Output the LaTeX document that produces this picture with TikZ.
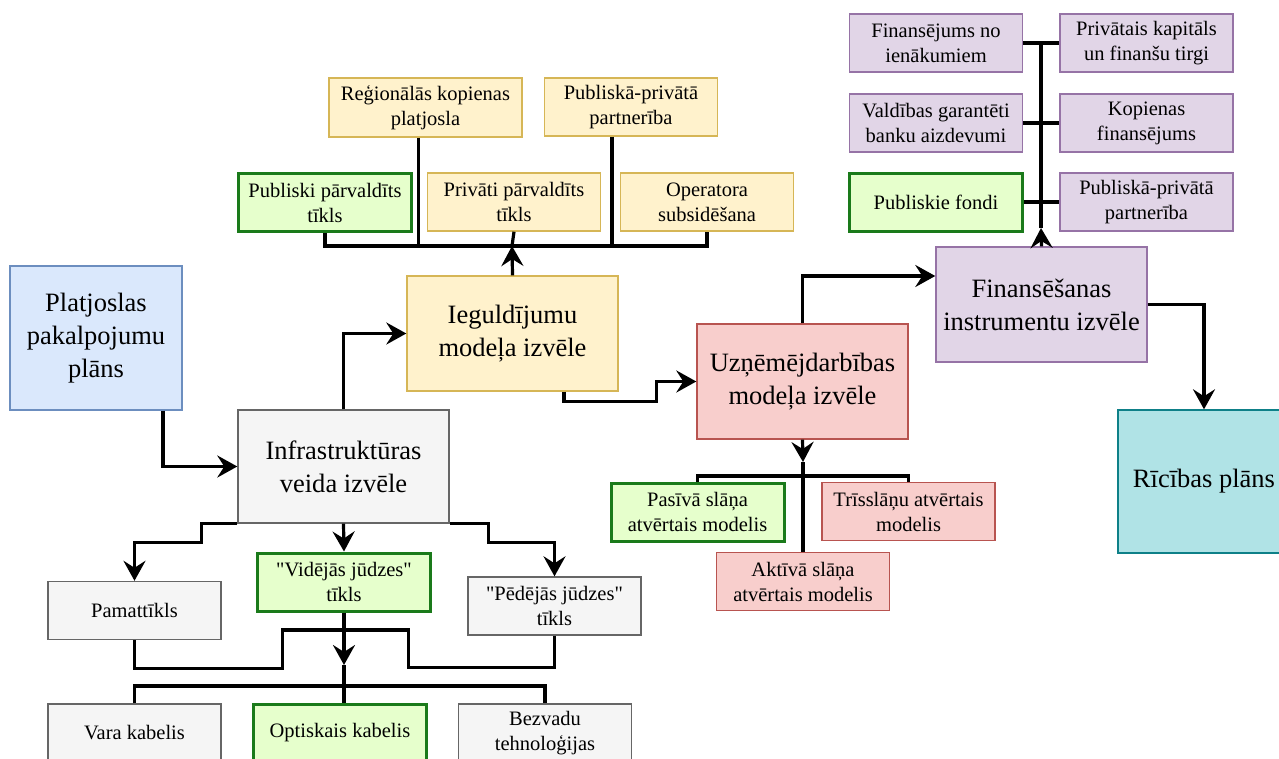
\documentclass[tikz,border=0pt]{standalone}
\usepackage{fontspec}
\setmainfont{Liberation Serif}[Ligatures=TeXOff]
\usetikzlibrary{arrows.meta}

\definecolor{bluefill}{HTML}{DAE8FC}\definecolor{bluedraw}{HTML}{6C8EBF}
\definecolor{grayfill}{HTML}{F5F5F5}\definecolor{graydraw}{HTML}{666666}
\definecolor{yellowfill}{HTML}{FFF2CC}\definecolor{yellowdraw}{HTML}{D6B656}
\definecolor{redfill}{HTML}{F8CECC}\definecolor{reddraw}{HTML}{B85450}
\definecolor{purplefill}{HTML}{E1D5E7}\definecolor{purpledraw}{HTML}{9673A6}
\definecolor{tealfill}{HTML}{B0E3E6}\definecolor{tealdraw}{HTML}{0E8088}
\definecolor{greenfill}{HTML}{E6FFCC}\definecolor{greendraw}{HTML}{1A7A1A}

\tikzset{
  box/.style={draw, rectangle, align=center, inner sep=2pt, line width=1.4pt, text=black},
  big/.style={box, font=\fontsize{26.5}{33}\selectfont, minimum width=211pt, minimum height=115pt},
  small/.style={box, font=\fontsize{20.5}{25}\selectfont, minimum width=173pt, minimum height=58pt},
  bluebox/.style={fill=bluefill, draw=bluedraw},
  graybox/.style={fill=grayfill, draw=graydraw},
  yellowbox/.style={fill=yellowfill, draw=yellowdraw},
  redbox/.style={fill=redfill, draw=reddraw},
  purplebox/.style={fill=purplefill, draw=purpledraw},
  tealbox/.style={fill=tealfill, draw=tealdraw},
  greenbox/.style={fill=greenfill, draw=greendraw, line width=3pt},
  conn/.style={line width=3.2pt},
  arr/.style={conn, -{Stealth[length=20pt, width=22pt, inset=7pt]}}
}

\begin{document}
\begin{tikzpicture}[x=1pt, y=-1pt]
  \clip (0,0) rectangle (1279,758);

  % main steps
  \node[big, bluebox, minimum width=172pt, minimum height=144pt] (plan) at (96,338) {Platjoslas\\pakalpojumu\\plāns};
  \node[big, graybox, minimum height=113pt] (infra) at (343.5,466.5) {Infrastruktūras\\veida izvēle};
  \node[big, yellowbox] (iegul) at (512.5,333.5) {Ieguldījumu\\modeļa izvēle};
  \node[big, redbox] (uzn) at (802.5,381.5) {Uzņēmējdarbības\\modeļa izvēle};
  \node[big, purplebox] (fin) at (1041.5,304.5) {Finansēšanas\\instrumentu izvēle};
  \node[big, tealbox, minimum width=172pt, minimum height=143pt] (ricibas) at (1204,481.5) {Rīcības plāns};

  % investment models
  \node[small, yellowbox, minimum width=193pt, minimum height=59pt] (regional) at (425.5,107.5) {Reģionālās kopienas\\platjosla};
  \node[small, yellowbox] (pppa) at (631,107) {Publiskā-privātā\\partnerība};
  \node[small, greenbox] (publiski) at (325,202.5) {Publiski pārvaldīts\\tīkls};
  \node[small, yellowbox] (privati) at (514,202) {Privāti pārvaldīts\\tīkls};
  \node[small, yellowbox] (operatora) at (707,202) {Operatora\\subsidēšana};

  % financing instruments
  \node[small, purplebox] (ienak) at (936,43) {Finansējums no\\ienākumiem};
  \node[small, purplebox] (privkap) at (1146.5,43) {Privātais kapitāls\\un finanšu tirgi};
  \node[small, purplebox] (aizdev) at (936,123) {Valdības garantēti\\banku aizdevumi};
  \node[small, purplebox] (kopien) at (1146.5,123) {Kopienas\\finansējums};
  \node[small, greenbox] (fondi) at (936,202) {Publiskie fondi};
  \node[small, purplebox] (pppb) at (1146.5,202) {Publiskā-privātā\\partnerība};

  % business models
  \node[small, greenbox] (pasiva) at (697.5,512) {Pasīvā slāņa\\atvērtais modelis};
  \node[small, redbox] (trissl) at (908.5,511.5) {Trīsslāņu atvērtais\\modelis};
  \node[small, redbox] (aktiva) at (803,581.5) {Aktīvā slāņa\\atvērtais modelis};

  % infrastructure
  \node[small, graybox] (pamat) at (134.5,610.5) {Pamattīkls};
  \node[small, greenbox] (vide) at (344,582) {"Vidējās jūdzes"\\tīkls};
  \node[small, graybox] (pedejas) at (554.5,606) {"Pēdējās jūdzes"\\tīkls};
  \node[small, graybox] (vara) at (134.5,733) {Vara kabelis};
  \node[small, greenbox] (optisk) at (340,733) {Optiskais kabelis};
  \node[small, graybox] (bezvadu) at (545,733) {Bezvadu\\tehnoloģijas};

  \coordinate (ibus) at (512,246);
  \coordinate (fbus) at (1041,228);
  \coordinate (uarr) at (803,462);
  \coordinate (ubus) at (803,476);
  \coordinate (varr) at (344,665);
  \coordinate (vmid) at (344,630);
  \coordinate (vbus) at (344,686);

  % main flow
  \draw[arr] ([xshift=67pt]plan.south) |- (infra.west);
  \draw[arr] (infra.north) |- (iegul.west);
  \draw[arr] ([xshift=51.5pt]iegul.south) -- ++(0,10) -| ([xshift=-40pt]uzn.west) -- (uzn.west);
  \draw[arr] (uzn.north) |- ([yshift=28.5pt]fin.west);
  \draw[arr] (fin.east) -| (ricibas.north);

  % investment tree
  \draw[arr] (iegul.north) -- (ibus);
  \draw[conn] (publiski.south) |- (ibus) -| (operatora.south);
  \draw[conn] (privati.south) -- (ibus);
  \draw[conn] ([xshift=-7pt]regional.south) -- ([xshift=-7pt]regional.south |- ibus);
  \draw[conn] ([xshift=-19pt]pppa.south) -- ([xshift=-19pt]pppa.south |- ibus);

  % financing tree
  \draw[arr] (fin.north) -- (fbus);
  \draw[conn] (fbus) -- (fbus |- ienak.east);
  \draw[conn] (ienak.east) -- (privkap.west);
  \draw[conn] (aizdev.east) -- (kopien.west);
  \draw[conn] (fondi.east) -- (pppb.west);

  % business tree
  \draw[arr] (uzn.south) -- (uarr);
  \draw[conn] (uarr) -- (aktiva.north);
  \draw[conn] (pasiva.north) |- (ubus) -| (trissl.north);

  % infrastructure tree
  \draw[arr] (infra.south) -- (vide.north);
  \draw[arr] (infra.south west) -| ++(-36,19) -| (pamat.north);
  \draw[arr] (infra.south east) -| ++(39,19) -| (pedejas.north);
  \draw[conn] (pamat.south) |- ++(148,28) |- (vmid);
  \draw[conn] (pedejas.south) |- ++(-146,32) |- (vmid);
  \draw[arr] (vide.south) -- (varr);
  \draw[conn] (varr) -- (varr |- optisk.north);
  \draw[conn] (vara.north) |- (vbus) -| (bezvadu.north);
\end{tikzpicture}
\end{document}
